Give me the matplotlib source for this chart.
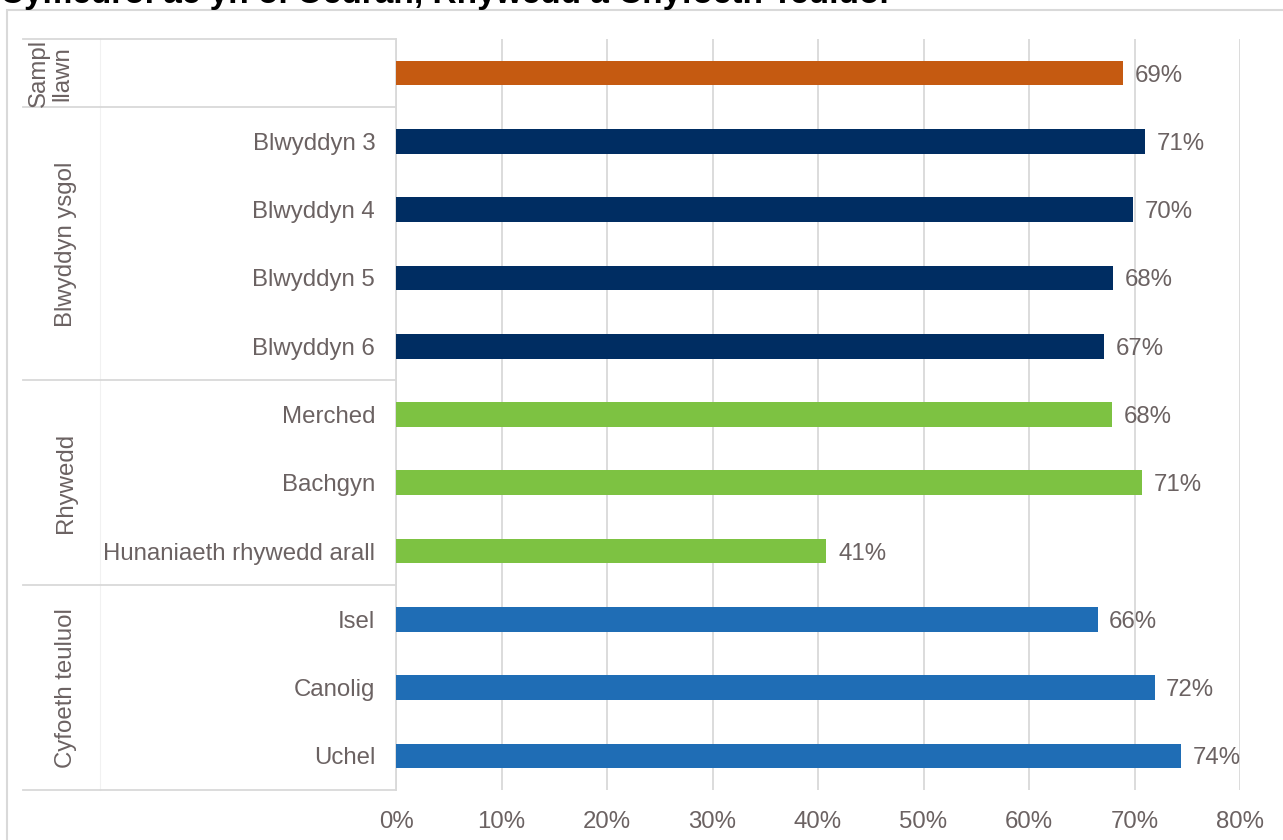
import matplotlib
matplotlib.use("Agg")
import matplotlib.pyplot as plt
from matplotlib.transforms import blended_transform_factory
from matplotlib.patches import Rectangle

plt.rcParams['font.family'] = ['Liberation Sans', 'DejaVu Sans']

title = "Cymedrol ac yn ôl Oedran, Rhywedd a Chyfoeth Teuluol"
categories = ["", "Blwyddyn 3", "Blwyddyn 4", "Blwyddyn 5", "Blwyddyn 6",
              "Merched", "Bachgyn", "Hunaniaeth rhywedd arall",
              "Isel", "Canolig", "Uchel"]
values = [68.9, 71.0, 69.9, 68.0, 67.1, 67.9, 70.7, 40.8, 66.5, 71.9, 74.4]
labels = ["69%", "71%", "70%", "68%", "67%", "68%", "71%", "41%", "66%", "72%", "74%"]
groups = ["Sampl\nllawn", "Blwyddyn ysgol", "Rhywedd", "Cyfoeth teuluol"]
group_sizes = [1, 4, 3, 3]
group_colors = ["#C55A11", "#002D62", "#7DC242", "#1F6DB5"]
xticks = [0, 10, 20, 30, 40, 50, 60, 70, 80]

TXT = "#6B6262"
GRID = "#D9D9D9"
FS = 17.3
W, H = 1283, 840
fig = plt.figure(figsize=(W/100, H/100), dpi=100)

# outer chart border
fig.patches.append(Rectangle((7/W, -0.1), 1.2, (H-10)/H + 0.1, transform=fig.transFigure,
                             fill=False, edgecolor=GRID, linewidth=1.5))
fig.text(0.0, 1 - 3/H, title, ha='left', va='baseline', fontsize=24,
         fontweight='bold', color='black')

left, right, top, bottom = 396, 1240, 39, 790
ax = fig.add_axes([left/W, 1 - bottom/H, (right-left)/W, (bottom-top)/H])

colors = []
for c, n in zip(group_colors, group_sizes):
    colors += [c] * n
ypos = list(range(len(categories)))
ax.barh(ypos, values, height=0.36, color=colors, zorder=3)
for y, v, l in zip(ypos, values, labels):
    ax.text(v + 1.1, y, l, va='center_baseline', ha='left', fontsize=FS, color=TXT)

ax.set_xlim(0, 80)
ax.set_ylim(len(categories) - 0.5, -0.5)
ax.set_xticks(xticks)
ax.set_xticklabels([f"{t}%" for t in xticks])
ax.set_yticks(ypos)
ax.set_yticklabels(categories)
ax.tick_params(axis='both', length=0, labelsize=FS, labelcolor=TXT)
ax.tick_params(axis='y', pad=15)
ax.tick_params(axis='x', pad=15)
ax.grid(axis='x', color=GRID, linewidth=1.3, zorder=0)
for s in ['top', 'right', 'bottom']:
    ax.spines[s].set_visible(False)
ax.spines['left'].set_color(GRID)
ax.spines['left'].set_linewidth(1.3)

tr = blended_transform_factory(ax.transAxes, ax.transData)
x_start = (23 - left) / (right - left)
x_mid = (100 - left) / (right - left)
bounds = [-0.5]
for n in group_sizes:
    bounds.append(bounds[-1] + n)
for b in bounds:
    ax.plot([x_start, 0], [b, b], transform=tr, color=GRID, linewidth=1.3, clip_on=False)
ax.plot([x_mid, x_mid], [bounds[0], bounds[-1]], transform=tr, color=GRID,
        linewidth=0.8, alpha=0.35, clip_on=False)

x_grp = (66 - left) / (right - left)
for g, b0, b1 in zip(groups, bounds[:-1], bounds[1:]):
    ax.text(x_grp if "\n" not in g else (51 - left) / (right - left), (b0 + b1) / 2, g,
            transform=tr, rotation=90, ha='center', va='center', fontsize=FS,
            color=TXT, linespacing=1.1)

fig.savefig("out.png", dpi=100)
